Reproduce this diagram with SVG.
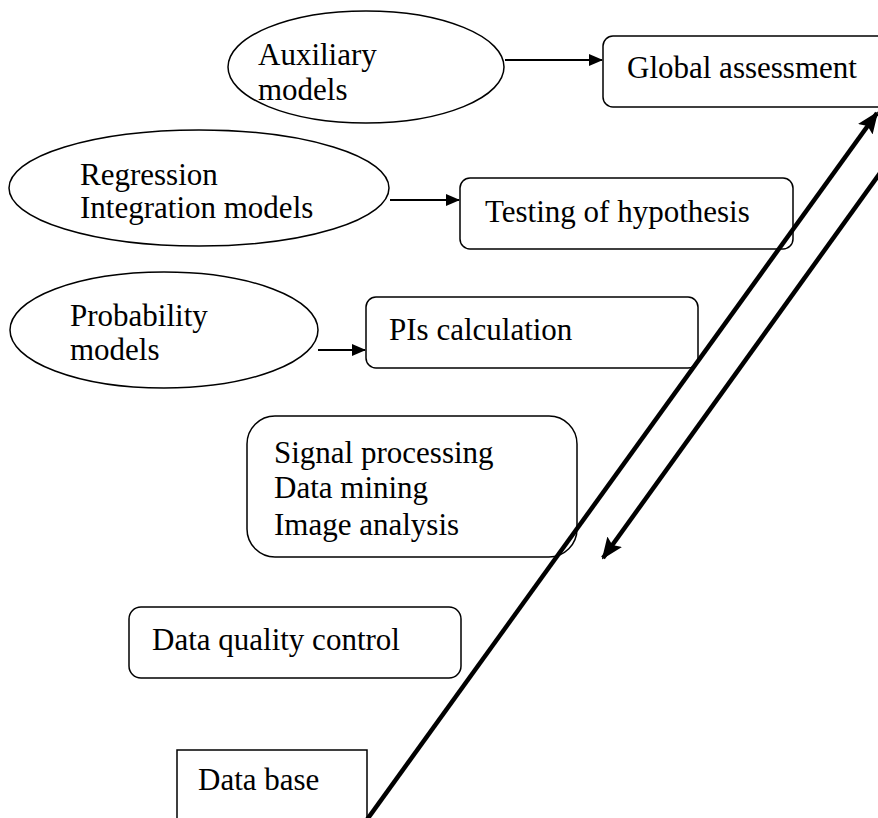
<svg xmlns="http://www.w3.org/2000/svg" width="878" height="818" viewBox="0 0 878 818">
<style>
.s{fill:#fff;stroke:#000;stroke-width:1.5}
.t{font-family:"Liberation Serif","Times New Roman",serif;font-size:31px;fill:#000}
.c{stroke:#000;stroke-width:1.8;fill:none}
.k{stroke:#000;stroke-width:4.5;fill:none}
</style>
<defs>
<marker id="a" markerUnits="userSpaceOnUse" markerWidth="14" markerHeight="12" refX="13" refY="6" orient="auto"><path d="M0,0 L14,6 L0,12 Z" fill="#000"/></marker>
<marker id="b" markerUnits="userSpaceOnUse" markerWidth="22" markerHeight="18" refX="20" refY="9" orient="auto"><path d="M0,0 L22,9 L0,18 L4,9 Z" fill="#000"/></marker>
</defs>
<rect width="878" height="818" fill="#fff"/>
<g id="global"><rect class="s" x="603" y="36" width="290" height="71" rx="10"/><text class="t" x="627" y="78">Global assessment</text></g>
<g id="auxiliary"><ellipse class="s" cx="366" cy="67" rx="138" ry="56"/><text class="t" x="258" y="65">Auxiliary</text><text class="t" x="258" y="100">models</text></g>
<g id="regression"><ellipse class="s" cx="199" cy="188" rx="190" ry="58"/><text class="t" x="80" y="185">Regression</text><text class="t" x="80" y="218">Integration models</text></g>
<g id="testing"><rect class="s" x="460" y="178" width="333" height="71" rx="10"/><text class="t" x="485" y="222">Testing of hypothesis</text></g>
<g id="probability"><ellipse class="s" cx="164" cy="330" rx="154" ry="58"/><text class="t" x="70" y="326">Probability</text><text class="t" x="70" y="360">models</text></g>
<g id="pis"><rect class="s" x="366" y="297" width="332" height="71" rx="10"/><text class="t" x="389" y="340">PIs calculation</text></g>
<g id="signal"><rect class="s" x="247" y="416" width="330" height="141" rx="28"/><text class="t" x="274" y="463">Signal processing</text><text class="t" x="274" y="498">Data mining</text><text class="t" x="274" y="535">Image analysis</text></g>
<g id="quality"><rect class="s" x="129" y="607" width="332" height="71" rx="12"/><text class="t" x="152" y="650">Data quality control</text></g>
<g id="database"><path class="s" d="M177,825 V750 H367 V825"/><text class="t" x="198" y="790">Data base</text></g>
<g id="connectors">
<line class="c" x1="505" y1="60" x2="602" y2="60" marker-end="url(#a)"/>
<line class="c" x1="390" y1="200" x2="459" y2="200" marker-end="url(#a)"/>
<line class="c" x1="318" y1="350" x2="365" y2="350" marker-end="url(#a)"/>
<line class="k" x1="366" y1="821" x2="877" y2="113" marker-end="url(#b)"/>
<line class="k" x1="888" y1="162" x2="603" y2="558" marker-end="url(#b)"/>
</g>
</svg>
